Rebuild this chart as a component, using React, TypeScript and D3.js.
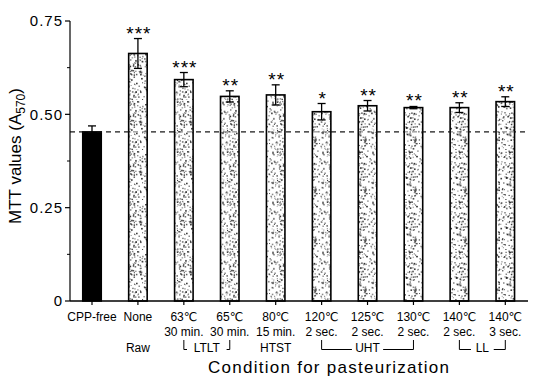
import React from "react";
import * as d3 from "d3";

// ---- data ----
const tempLabels = ["CPP-free", "None", "63℃", "65℃", "80℃", "120℃", "125℃", "130℃", "140℃", "140℃"];
const timeLabels = ["", "", "30 min.", "30 min.", "15 min.", "2 sec.", "2 sec.", "2 sec.", "2 sec.", "3 sec."];
const methodLabels = ["", "Raw", "", "", "HTST", "", "", "", "", ""];
const means = [0.453, 0.663, 0.593, 0.548, 0.552, 0.507, 0.523, 0.518, 0.518, 0.534];
const errors = [0.016, 0.04, 0.019, 0.015, 0.027, 0.022, 0.014, 0.003, 0.013, 0.013];
const stars = ["", "***", "***", "**", "**", "*", "**", "**", "**", "**"];
const groupLabels = ["LTLT", "UHT", "LL"];
const groupFrom = [2, 5, 8];
const groupTo = [3, 7, 9];
const yTicks = [0, 0.25, 0.5, 0.75];
const yTickLabels = ["0", "0.25", "0.50", "0.75"];
const yMinorTicks = [0.125, 0.375, 0.625];
const referenceValue = means[0];

const W = 533;
const H = 378;
const FONT = "'Liberation Sans', Arial, Helvetica, 'DejaVu Sans', 'Noto Sans CJK JP', sans-serif";

// deterministic stipple texture (decoration only)
function stippleDots(n: number, size: number) {
  let s = 12345;
  const rnd = () => {
    s = (s * 1103515245 + 12345) % 2147483648;
    return s / 2147483648;
  };
  const dots: { x: number; y: number; r: number; o: number }[] = [];
  for (let i = 0; i < n; i++) {
    dots.push({ x: rnd() * size, y: rnd() * size, r: 0.9 + rnd() * 0.8, o: 0.35 + rnd() * 0.6 });
  }
  return dots;
}

export default function App() {
  const idx = d3.range(tempLabels.length);
  const x = d3.scalePoint<number>().domain(idx).range([92, 505.3]);
  const y = d3.scaleLinear().domain([0, 0.75]).range([301, 21]);
  const barW = 18.5;
  const axisX = 70;
  const axisRight = 528;
  const y0 = y(0);
  const tile = 50;
  const dots = stippleDots(330, tile);

  return (
    <svg width={W} height={H} style={{ position: "absolute", left: 0, top: 0, background: "#fff" }} fontFamily={FONT}>
      <defs>
        <pattern id="stipple" width={tile} height={tile} patternUnits="userSpaceOnUse">
          <rect width={tile} height={tile} fill="#fff" />
          {dots.map((d, i) => (
            <rect key={i} x={d.x} y={d.y} width={d.r} height={d.r} fill="#222" opacity={d.o} />
          ))}
        </pattern>
      </defs>

      {/* reference dashed line */}
      <line x1={axisX} x2={axisRight} y1={y(referenceValue)} y2={y(referenceValue)} stroke="#222" strokeWidth={1} strokeDasharray="5,4" />

      {/* bars */}
      {idx.map((i) => (
        <rect
          key={"b" + i}
          x={(x(i) as number) - barW / 2}
          y={y(means[i])}
          width={barW}
          height={y0 - y(means[i])}
          fill={i === 0 ? "#000" : "url(#stipple)"}
          stroke="#000"
          strokeWidth={1.6}
        />
      ))}
      {/* redraw dashed line over bars lightly */}
      <line x1={axisX} x2={axisRight} y1={y(referenceValue)} y2={y(referenceValue)} stroke="#222" strokeWidth={0.9} strokeDasharray="5,4" opacity={0.7} />

      {/* error bars */}
      {idx.map((i) => {
        const cx = x(i) as number;
        const t = y(means[i] + errors[i]);
        const b = y(means[i] - errors[i]);
        return (
          <g key={"e" + i} stroke="#000" strokeWidth={1.3}>
            <line x1={cx} x2={cx} y1={t} y2={b} />
            <line x1={cx - 4} x2={cx + 4} y1={t} y2={t} />
            <line x1={cx - 4} x2={cx + 4} y1={b} y2={b} />
          </g>
        );
      })}

      {/* significance stars */}
      {idx.map((i) =>
        stars[i] ? (
          <text
            key={"s" + i}
            x={(x(i) as number) + 1}
            y={y(means[i] + errors[i]) + 1}
            textAnchor="middle"
            fontSize={19}
            letterSpacing={1}
            fill="#000"
          >
            {stars[i]}
          </text>
        ) : null
      )}

      {/* y axis */}
      <line x1={axisX} x2={axisX} y1={y(0.75)} y2={y0} stroke="#000" strokeWidth={1.2} />
      {yTicks.map((t, i) => (
        <g key={"yt" + i}>
          <line x1={axisX - 5} x2={axisX} y1={y(t)} y2={y(t)} stroke="#000" strokeWidth={1.2} />
          <text x={axisX - 7} y={y(t)} dy="0.36em" textAnchor="end" fontSize={15} letterSpacing={1} fill="#000">
            {yTickLabels[i]}
          </text>
        </g>
      ))}
      {yMinorTicks.map((t, i) => (
        <line key={"ym" + i} x1={axisX - 3} x2={axisX} y1={y(t)} y2={y(t)} stroke="#000" strokeWidth={1} />
      ))}

      {/* x axis */}
      <line x1={axisX} x2={axisRight} y1={y0} y2={y0} stroke="#000" strokeWidth={1.4} />
      {idx.map((i) => (
        <line key={"xt" + i} x1={x(i) as number} x2={x(i) as number} y1={y0} y2={y0 + 4} stroke="#000" strokeWidth={1.2} />
      ))}
      {idx.map((i) => (
        <g key={"xl" + i} fontSize={12} fill="#000" textAnchor="middle">
          <text x={x(i) as number} y={320.5}>{tempLabels[i]}</text>
          {timeLabels[i] ? <text x={x(i) as number} y={336}>{timeLabels[i]}</text> : null}
          {methodLabels[i] ? <text x={x(i) as number} y={352}>{methodLabels[i]}</text> : null}
        </g>
      ))}

      {/* group brackets */}
      {groupLabels.map((g, k) => {
        const a = x(groupFrom[k]) as number;
        const b = x(groupTo[k]) as number;
        const mid = (a + b) / 2;
        const half = g.length * 4.2 + 3;
        const ly = 349.5;
        return (
          <g key={"g" + k}>
            <path
              d={`M${a},340V${ly}H${mid - half}M${mid + half},${ly}H${b}V340`}
              fill="none"
              stroke="#000"
              strokeWidth={1}
            />
            <text x={mid} y={352} textAnchor="middle" fontSize={12} fill="#000">
              {g}
            </text>
          </g>
        );
      })}

      {/* axis titles */}
      <text x={328.5} y={373} textAnchor="middle" fontSize={17} textLength={241} lengthAdjust="spacing" fill="#000">
        Condition for pasteurization
      </text>
      <text transform={`translate(21,156) rotate(-90)`} textAnchor="middle" fontSize={17} fill="#000">
        MTT values (A<tspan fontSize={12} dy={4}>570</tspan>
        <tspan dy={-4}>)</tspan>
      </text>
    </svg>
  );
}
